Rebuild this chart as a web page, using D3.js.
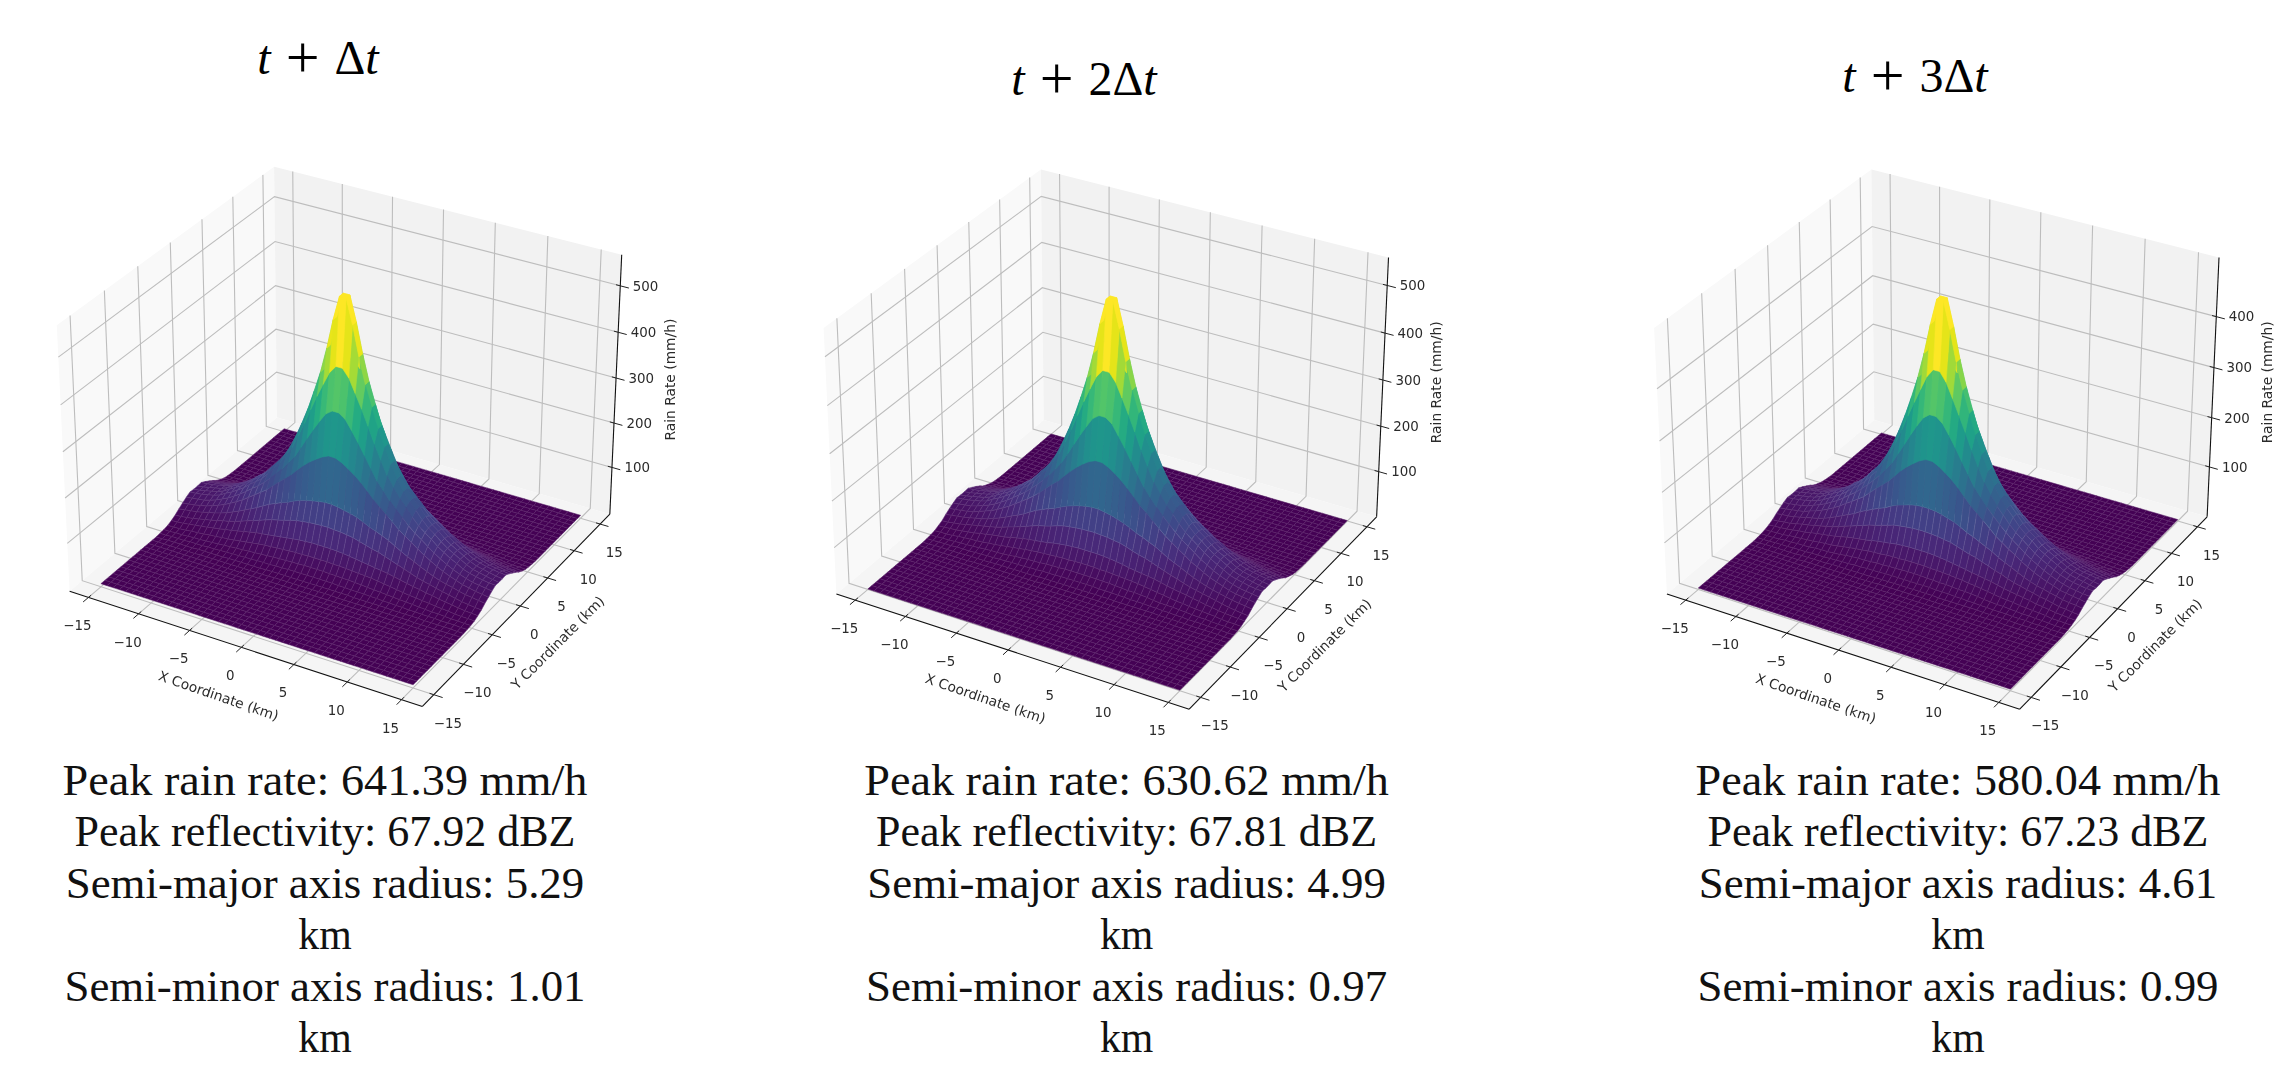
<!DOCTYPE html>
<html>
<head>
<meta charset="utf-8">
<title>Rain rate surfaces</title>
<script src="https://d3js.org/d3.v7.min.js"></script>
<style>
  body { margin: 0; background: #fff; }
  svg { display: block; }
</style>
</head>
<body>
<script>
// Grid distance from the storm centre in km, the surface is read as mirrored around it
var gridKm = [0.31, 0.92, 1.53, 2.14, 2.76, 3.37, 3.98, 4.59, 5.2, 5.82, 6.43, 7.04, 7.65,
  8.27, 8.88, 9.49, 10.1, 10.71, 11.33, 11.94, 12.55, 13.16, 13.78, 14.39, 15];

// Rain rate: one row per gridKm in y, one column per gridKm in x.
// Rows further out than these sit on the floor (0)
var rainFirst = [
  [553,500,436,381,336,294,258,225,196,173,155,140,123,109,99,87,77,69,61,53,47,44,41,38,36],
  [411,394,365,335,302,268,237,207,185,164,149,132,117,106,96,84,75,66,59,51,46,43,40,38,37],
  [322,312,292,270,246,222,198,181,163,148,134,120,108,98,87,77,68,60,53,47,42,38,36,34,32],
  [231,225,216,206,194,180,165,153,141,128,115,105,95,85,75,67,59,52,46,41,36,33,30,28,26],
  [136,134,131,128,124,118,111,106,100,94,86,78,71,64,57,51,45,40,36,33,29,26,24,22,20],
  [92,91,90,88,86,82,78,74,71,66,61,56,51,46,41,37,34,30,27,24,21,18,16,14,13],
  [56,56,55,54,52,50,48,46,44,42,40,37,34,31,28,26,23,21,18,16,14,12,10,9,8],
  [34,34,33,33,32,31,30,29,28,26,24,22,20,18,16,15,13,12,10,9,8,6,5,5,4],
  [20,20,19,19,18,18,17,16,15,14,13,12,11,10,9,8,7,6,5,5,4,3,3,2,2],
  [10,10,10,10,9,9,8,8,8,7,7,6,6,5,5,4,4,3,3,3,2,2,2,1,1],
  [4,4,4,4,4,4,4,3,3,3,3,3,3,2,2,2,2,2,1,1,1,1,1,0,0],
  [2,2,2,2,2,1,1,1,1,1,1,1,1,1,1,1,1,0,0,0,0,0,0,0,0]
];
var rainSecond = [
  [545,491,427,372,327,286,250,218,189,166,149,134,118,104,94,83,73,66,58,50,45,42,39,36,34],
  [404,387,358,327,294,260,229,200,178,157,143,126,112,101,91,80,71,63,56,48,44,41,38,36,35],
  [316,306,285,263,239,215,192,174,157,142,128,115,103,93,83,73,65,57,50,45,40,36,34,32,30],
  [227,221,212,201,188,174,159,148,135,122,110,100,90,81,71,64,56,49,44,39,34,31,29,27,25],
  [134,132,129,125,120,114,107,102,96,90,82,74,67,61,54,48,43,38,34,31,28,25,23,21,19],
  [90,89,88,86,84,80,75,71,68,63,58,53,48,44,39,35,32,29,26,23,20,17,15,13,12],
  [55,55,54,53,51,49,46,44,42,40,38,35,32,29,27,25,22,20,17,15,13,11,10,9,8],
  [33,33,32,32,31,30,29,28,27,25,23,21,19,17,15,14,12,11,10,9,8,6,5,5,4],
  [19,19,19,18,18,17,16,15,15,14,13,11,10,9,9,8,7,6,5,5,4,3,3,2,2],
  [10,10,10,9,9,9,8,8,7,7,7,6,6,5,5,4,4,3,3,3,2,2,2,1,1],
  [4,4,4,4,4,4,3,3,3,3,3,3,3,2,2,2,2,2,1,1,1,1,1,0,0],
  [2,2,2,2,2,1,1,1,1,1,1,1,1,1,1,1,0,0,0,0,0,0,0,0,0]
];
var rainThird = [
  [502,451,392,342,300,262,228,198,172,151,135,121,106,94,85,74,66,59,52,45,40,37,35,32,30],
  [373,356,328,299,269,238,209,182,161,142,128,113,101,91,81,71,63,56,49,43,39,36,34,32,31],
  [292,282,263,242,219,197,175,159,143,129,116,104,93,84,74,65,58,51,45,40,35,32,30,28,27],
  [210,204,195,185,173,159,145,134,123,111,99,90,81,73,64,57,50,44,39,35,30,28,26,24,22],
  [123,122,119,115,111,105,98,93,87,81,75,67,61,55,49,43,38,34,31,28,25,22,20,19,17],
  [83,82,81,79,77,73,69,65,62,57,53,48,44,39,35,32,29,26,23,21,18,15,14,12,11],
  [51,51,50,49,47,45,43,41,38,36,34,32,29,26,24,22,20,18,15,14,12,10,9,8,7],
  [31,31,30,30,29,28,27,26,24,23,21,19,17,15,14,13,11,10,9,8,7,5,5,4,4],
  [18,18,17,17,16,16,15,14,14,13,12,10,9,8,8,7,6,5,5,4,4,3,2,2,2],
  [9,9,9,9,8,8,8,7,7,6,6,5,5,4,4,4,3,3,3,2,2,2,1,1,1],
  [4,4,4,4,4,3,3,3,3,3,3,3,2,2,2,2,2,1,1,1,1,1,1,0,0],
  [2,2,2,2,1,1,1,1,1,1,1,1,1,1,1,1,0,0,0,0,0,0,0,0,0]
];

// Tick labels and axis ranges
var kmTicks = [-15, -10, -5, 0, 5, 10, 15];
var kmRange = [-16.9, 16.9];
var rateTicks = [[100, 200, 300, 400, 500], [100, 200, 300, 400, 500], [100, 200, 300, 400]];
var rateRange = [[-7, 566], [-1, 558], [-3, 514]];
var rainTables = [rainFirst, rainSecond, rainThird];

// Texts around the panels
var titleMultiples = ["", "2", "3"];
var peakRain = ["641.39", "630.62", "580.04"];
var peakReflectivity = ["67.92", "67.81", "67.23"];
var majorRadius = ["5.29", "4.99", "4.61"];
var minorRadius = ["1.01", "0.97", "0.99"];

// Where each panel ends up on the page: projection centre, title and caption spots
var panelLayout = [
  {cx: 344.7, cy: 423.6, titleX: 318, titleY: 74, textX: 325},
  {cx: 1111.5, cy: 426.3, titleX: 1084, titleY: 95, textX: 1126.6},
  {cx: 1942, cy: 426.3, titleX: 1915, titleY: 92, textX: 1958}
];
var captionTop = 795;
var captionStep = 51.4;
// Cambria sets each line a bit differently from Liberation Serif, so each gets its own width factor
var captionStretch = [1.05, 1.0, 1.02, 0.95, 1.02, 0.95];

// Camera as in a default 3D matplotlib axes: elevation 30, azimuth -60, distance 10
var elev = 30 * Math.PI / 180;
var azim = -60 * Math.PI / 180;
var camDist = 10;
var boxK = 1.8294640721620434 * 25 / 24 / Math.sqrt(41);
var boxSize = [4 * boxK, 4 * boxK, 3 * boxK];
var camDir = [Math.cos(elev) * Math.cos(azim), Math.cos(elev) * Math.sin(azim), Math.sin(elev)];
var camRight = [-camDir[1], camDir[0], 0];
var rightLen = Math.hypot(camRight[0], camRight[1]);
camRight = [camRight[0] / rightLen, camRight[1] / rightLen, 0];
var camUp = [
  camDir[1] * camRight[2] - camDir[2] * camRight[1],
  camDir[2] * camRight[0] - camDir[0] * camRight[2],
  camDir[0] * camRight[1] - camDir[1] * camRight[0]
];

function dot(a, b) {
  return a[0] * b[0] + a[1] * b[1] + a[2] * b[2];
}

var svg = d3.select("body").append("svg")
  .attr("width", 2294)
  .attr("height", 1082)
  .attr("viewBox", "0 0 2294 1082");

// Draws one title, 3D panel and caption
function drawPanel(p) {
  var layout = panelLayout[p];
  var table = rainTables[p];
  var scaleK = d3.scaleLinear().domain(kmRange).range([-0.5, 0.5]);
  var scaleRate = d3.scaleLinear().domain(rateRange[p]).range([-0.5, 0.5]);
  var scaleSX = d3.scaleLinear().domain([-0.1, 0.1]).range([layout.cx - 339.5, layout.cx + 339.5]);
  var scaleSY = d3.scaleLinear().domain([-0.1, 0.1]).range([layout.cy + 339.5, layout.cy - 339.5]);
  // Cell colour goes by the cell mean, and the highest means stop short of the peak itself
  var peak = d3.max(table, function(r) { return d3.max(r); });
  var colour = d3.scaleSequentialPow(d3.interpolateViridis).exponent(1.15).domain([0, 0.87 * peak]).clamp(true);

  // Turns km, km, mm/h into [page x, page y, depth]
  function project(x, y, z) {
    var w = [scaleK(x) * boxSize[0], scaleK(y) * boxSize[1], scaleRate(z) * boxSize[2]];
    var d = camDist - dot(w, camDir);
    return [scaleSX(dot(w, camRight) / d), scaleSY(dot(w, camUp) / d), d];
  }

  var xLo = kmRange[0], xHi = kmRange[1];
  var zLo = rateRange[p][0], zHi = rateRange[p][1];
  var g = svg.append("g").style("filter", "blur(0.45px)");

  function path3d(points) {
    return d3.line()(points.map(function(q) { return project(q[0], q[1], q[2]).slice(0, 2); }));
  }

  // Panes
  var panes = [
    {fill: "#f9f9f9", pts: [[xLo, xLo, zLo], [xLo, xHi, zLo], [xLo, xHi, zHi], [xLo, xLo, zHi]]},
    {fill: "#f2f2f2", pts: [[xLo, xHi, zLo], [xHi, xHi, zLo], [xHi, xHi, zHi], [xLo, xHi, zHi]]},
    {fill: "#f5f5f5", pts: [[xLo, xLo, zLo], [xHi, xLo, zLo], [xHi, xHi, zLo], [xLo, xHi, zLo]]}
  ];
  g.selectAll("path.pane").data(panes).enter().append("path")
    .attr("class", "pane")
    .attr("fill", function(d) { return d.fill; })
    .attr("d", function(d) { return path3d(d.pts) + "Z"; });

  // Grid lines
  var grids = [];
  kmTicks.forEach(function(t) {
    grids.push([[t, xLo, zLo], [t, xHi, zLo], [t, xHi, zHi]]);
    grids.push([[xHi, t, zLo], [xLo, t, zLo], [xLo, t, zHi]]);
  });
  rateTicks[p].forEach(function(t) {
    grids.push([[xLo, xLo, t], [xLo, xHi, t], [xHi, xHi, t]]);
  });
  g.selectAll("path.grid").data(grids).enter().append("path")
    .attr("class", "grid")
    .attr("fill", "none")
    .attr("stroke", "#bdbdbd")
    .attr("stroke-width", 1.1)
    .attr("d", path3d);

  // Axis lines
  var axes = [
    [[xLo, xLo, zLo], [xHi, xLo, zLo]],
    [[xHi, xLo, zLo], [xHi, xHi, zLo]],
    [[xHi, xHi, zLo], [xHi, xHi, zHi]]
  ];
  g.selectAll("path.axis").data(axes).enter().append("path")
    .attr("class", "axis")
    .attr("fill", "none")
    .attr("stroke", "#111")
    .attr("stroke-width", 1.1)
    .attr("d", path3d);

  // Ticks
  var ticks = [];
  kmTicks.forEach(function(t) {
    ticks.push([[t, xLo + 0.4, zLo], [t, xLo - 0.8, zLo]]);
    ticks.push([[xHi - 0.4, t, zLo], [xHi + 0.8, t, zLo]]);
  });
  rateTicks[p].forEach(function(t) {
    ticks.push([[xHi - 0.4, xHi, t], [xHi + 0.8, xHi, t]]);
  });
  g.selectAll("path.tick").data(ticks).enter().append("path")
    .attr("class", "tick")
    .attr("fill", "none")
    .attr("stroke", "#222")
    .attr("stroke-width", 1)
    .attr("d", path3d);

  // Surface cells, sorted back to front like plot_surface does
  var kmGrid = gridKm.slice().reverse().map(function(v) { return -v; }).concat(gridKm);
  function rainAt(i, j) {
    var row = table[i < 25 ? 24 - i : i - 25];
    return row ? row[j < 25 ? 24 - j : j - 25] : 0;
  }
  var cells = [];
  d3.range(49).forEach(function(i) {
    d3.range(49).forEach(function(j) {
      var corners = [[i, j], [i, j + 1], [i + 1, j + 1], [i + 1, j]].map(function(c) {
        return [kmGrid[c[1]], kmGrid[c[0]], rainAt(c[0], c[1])];
      });
      cells.push({
        pts: corners,
        rate: d3.mean(corners, function(c) { return c[2]; }),
        depth: d3.mean(corners, function(c) { return project(c[0], c[1], c[2])[2]; })
      });
    });
  });
  cells.sort(function(a, b) { return b.depth - a.depth; });
  g.selectAll("path.cell").data(cells).enter().append("path")
    .attr("class", "cell")
    .attr("fill", function(d) { return colour(d.rate); })
    .attr("stroke", function(d) {
      return d3.interpolateRgb(colour(d.rate), "#fff")(d.rate < 130 ? 0.13 : 0.02);
    })
    .attr("stroke-width", 0.55)
    .attr("d", function(d) { return path3d(d.pts) + "Z"; });

  // Tick labels
  function kmLabel(t) {
    return t < 0 ? "\u2212" + Math.abs(t) : String(t);
  }
  var labels = [];
  kmTicks.forEach(function(t) {
    var a = project(t, xLo, zLo);
    labels.push({x: a[0] - 11, y: a[1] + 28, text: kmLabel(t), anchor: "middle"});
    var b = project(xHi, t, zLo);
    labels.push({x: b[0] + 14, y: b[1] + 28, text: kmLabel(t), anchor: "middle"});
  });
  rateTicks[p].forEach(function(t) {
    var a = project(xHi, xHi, t);
    labels.push({x: a[0] + 12.5, y: a[1], text: String(t), anchor: "start"});
  });
  // Axis titles sit at fixed spots around the projection centre
  var axisTitles = [
    {x: layout.cx - 126, y: layout.cy + 272, text: "X Coordinate (km)", rotate: 19},
    {x: layout.cx + 213, y: layout.cy + 219, text: "Y Coordinate (km)", rotate: -45},
    {x: layout.cx + 325, y: layout.cy - 44, text: "Rain Rate (mm/h)", rotate: -90}
  ];
  g.selectAll("text.tickLabel").data(labels).enter().append("text")
    .attr("class", "tickLabel")
    .attr("x", function(d) { return d.x; })
    .attr("y", function(d) { return d.y; })
    .attr("dy", "0.36em")
    .attr("text-anchor", function(d) { return d.anchor; })
    .attr("font-family", "DejaVu Sans")
    .attr("font-size", 13.4)
    .attr("fill", "#2a2a2a")
    .text(function(d) { return d.text; });
  g.selectAll("text.axisTitle").data(axisTitles).enter().append("text")
    .attr("class", "axisTitle")
    .attr("text-anchor", "middle")
    .attr("dy", "0.36em")
    .attr("transform", function(d) { return "translate(" + d.x + "," + d.y + ") rotate(" + d.rotate + ")"; })
    .attr("font-family", "DejaVu Sans")
    .attr("font-size", 13.8)
    .attr("fill", "#2a2a2a")
    .text(function(d) { return d.text; });

  // Title with the italic t's and the bigger math plus
  var title = svg.append("text")
    .attr("x", layout.titleX)
    .attr("y", layout.titleY)
    .attr("text-anchor", "middle")
    .attr("font-family", "Liberation Serif")
    .attr("font-size", 48)
    .attr("xml:space", "preserve")
    .style("white-space", "pre")
    .attr("fill", "#000");
  title.append("tspan").attr("font-style", "italic").text("t");
  title.append("tspan").attr("font-size", 60).attr("dy", 3).text(" + ");
  title.append("tspan").attr("dy", -3).text(titleMultiples[p] + "\u0394");
  title.append("tspan").attr("font-style", "italic").text("t");

  // Caption, wrapped the way the reference wraps it
  var lines = [
    "Peak rain rate: " + peakRain[p] + " mm/h",
    "Peak reflectivity: " + peakReflectivity[p] + " dBZ",
    "Semi-major axis radius: " + majorRadius[p],
    "km",
    "Semi-minor axis radius: " + minorRadius[p],
    "km"
  ];
  svg.selectAll("text.cap" + p).data(lines).enter().append("text")
    .attr("class", "cap" + p)
    .attr("x", layout.textX)
    .attr("y", function(d, i) { return captionTop + i * captionStep; })
    .attr("text-anchor", "middle")
    .attr("font-family", "Liberation Serif")
    .attr("font-size", 44)
    .attr("fill", "#111")
    .text(function(d) { return d; })
    .attr("lengthAdjust", "spacingAndGlyphs")
    .attr("textLength", function(d, i) { return this.getComputedTextLength() * captionStretch[i]; });
}

d3.range(3).forEach(drawPanel);
</script>
</body>
</html>
